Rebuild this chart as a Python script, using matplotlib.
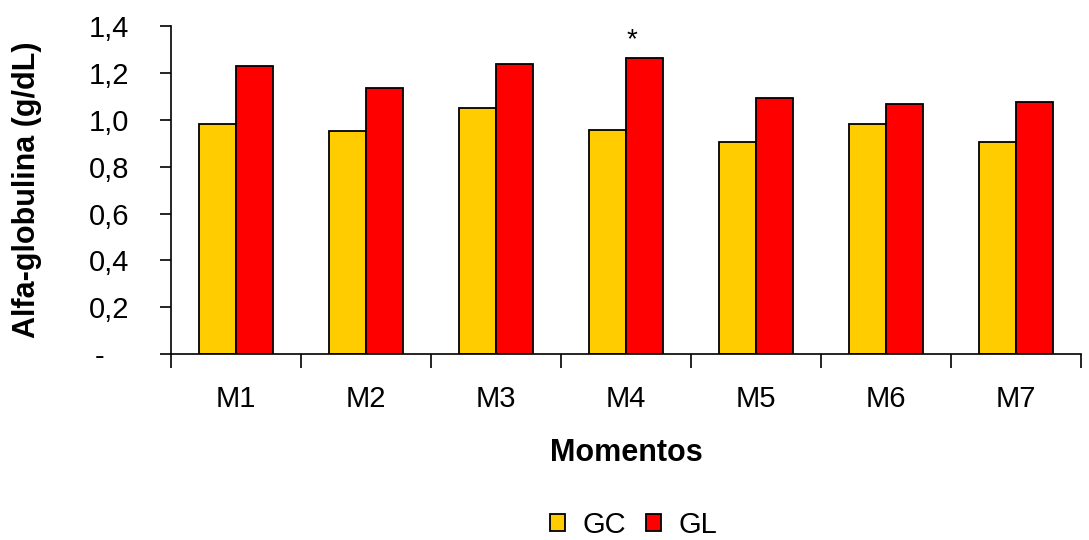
import numpy as np
import matplotlib.pyplot as plt
from matplotlib.ticker import FixedLocator

plt.rcParams['font.family'] = ['Liberation Sans', 'DejaVu Sans']

# dados
momentos = ['M1', 'M2', 'M3', 'M4', 'M5', 'M6', 'M7']
gc = [0.98, 0.95, 1.05, 0.955, 0.905, 0.98, 0.905]
gl = [1.23, 1.135, 1.238, 1.263, 1.093, 1.067, 1.075]
yticks = [0, 0.2, 0.4, 0.6, 0.8, 1.0, 1.2, 1.4]
ylabels = ['-   ', '0,2', '0,4', '0,6', '0,8', '1,0', '1,2', '1,4']

fig = plt.figure(figsize=(10.89, 5.40), dpi=100)
ax = fig.add_axes([0.157, 0.344, 0.836, 0.608])

x = np.arange(len(momentos))
w = 0.285
ax.bar(x - w/2, gc, w, color='#FFCC00', edgecolor='black', linewidth=1.3, label='GC')
ax.bar(x + w/2, gl, w, color='#FF0000', edgecolor='black', linewidth=1.3, label='GL')

# asterisco em M4
ax.text(x[3] + w/2 - 0.1, gl[3] + 0.02, '*', ha='center', va='bottom', fontsize=20)

ax.set_xlim(-0.5, 6.5)
ax.set_ylim(0, 1.4)
ax.set_yticks(yticks)
ax.set_yticklabels(ylabels, fontsize=21)
ax.set_xticks(x)
ax.set_xticklabels(momentos, fontsize=21)
ax.xaxis.set_minor_locator(FixedLocator(np.arange(-0.5, 7, 1)))
ax.tick_params(axis='x', which='major', length=0, pad=22)
ax.tick_params(axis='x', which='minor', length=10, width=1.2, direction='out')
ax.tick_params(axis='y', length=8, width=1.2, direction='out', pad=22)

for s in ['top', 'right']:
    ax.spines[s].set_visible(False)
for s in ['left', 'bottom']:
    ax.spines[s].set_linewidth(1.2)

ax.set_xlabel('Momentos', fontsize=22, fontweight='bold', labelpad=18)
ax.set_ylabel('Alfa-globulina (g/dL)', fontsize=22, fontweight='bold')
ax.yaxis.set_label_coords(-0.142, 0.5)

fig.legend(loc='center', bbox_to_anchor=(0.582, 0.028), ncol=2, frameon=False,
           fontsize=21, handlelength=0.5, handleheight=0.5, handletextpad=0.6,
           columnspacing=0.7)

plt.savefig('out.png', dpi=100)
